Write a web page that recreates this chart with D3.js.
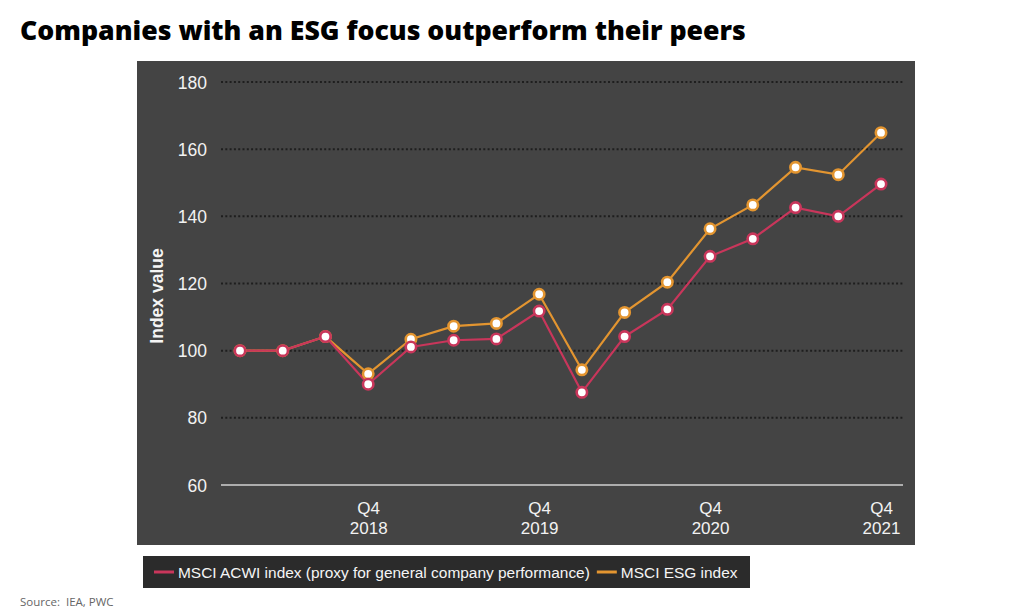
<!DOCTYPE html>
<html>
<head>
<meta charset="utf-8">
<script src="https://cdn.jsdelivr.net/npm/d3@7"></script>
<style>
  html, body { margin: 0; padding: 0; background: #fff; }
  svg { display: block; }
</style>
</head>
<body>
<svg id="chart" width="1024" height="614"></svg>
<script>
const quarters = ["Q1 2018","Q2 2018","Q3 2018","Q4 2018","Q1 2019","Q2 2019","Q3 2019","Q4 2019",
                  "Q1 2020","Q2 2020","Q3 2020","Q4 2020","Q1 2021","Q2 2021","Q3 2021","Q4 2021"];
const acwiValues = [100, 100, 104.2, 90, 101.1, 103.1, 103.5, 111.8, 87.6, 104.2, 112.3, 128.1, 133.3, 142.6, 140, 149.6];
const esgValues  = [100, 100, 104.2, 93.1, 103.4, 107.3, 108.1, 116.8, 94.3, 111.4, 120.4, 136.3, 143.4, 154.6, 152.4, 164.9];
const yTicks = [60, 80, 100, 120, 140, 160, 180];
const xTickLabels = {"Q4 2018": ["Q4","2018"], "Q4 2019": ["Q4","2019"], "Q4 2020": ["Q4","2020"], "Q4 2021": ["Q4","2021"]};
const seriesNames = ["MSCI ACWI index (proxy for general company performance)", "MSCI ESG index"];
const seriesColors = ["#c9365b", "#e39530"];

const svg = d3.select("#chart");
const font = "'Liberation Sans', Arial, Helvetica, sans-serif";

// Title
const title = svg.append("text")
  .attr("x", 20).attr("y", 40)
  .attr("font-family", "'Open Sans', sans-serif")
  .attr("font-weight", 800)
  .attr("font-size", 25)
  .attr("fill", "#000")
  .text("Companies with an ESG focus outperform their peers");
{
  const w = title.node().getComputedTextLength();
  title.attr("font-size", 25 * 726 / w);
}

// Panel
svg.append("rect").attr("x", 137).attr("y", 61).attr("width", 778).attr("height", 484).attr("fill", "#444444");

const x = d3.scalePoint().domain(quarters).range([240, 881]);
const y = d3.scaleLinear().domain([60, 180]).range([485, 82]);

// Gridlines
const grid = svg.append("g");
grid.selectAll("line").data(yTicks.filter(d => d > 60)).join("line")
  .attr("x1", 221).attr("x2", 903)
  .attr("y1", d => y(d)).attr("y2", d => y(d))
  .attr("stroke", "#1e1e1e").attr("stroke-width", 2)
  .attr("stroke-dasharray", "2,2.3");

// Baseline axis (x)
svg.append("line").attr("x1", 221).attr("x2", 903).attr("y1", y(60)).attr("y2", y(60))
  .attr("stroke", "#d0d0d0").attr("stroke-width", 1.5);

// Y axis labels
const yAxis = d3.axisLeft(y).tickValues(yTicks).tickSize(0).tickPadding(0);
const yg = svg.append("g").attr("transform", "translate(207,0)").call(yAxis);
yg.select(".domain").remove();
yg.selectAll("text").attr("font-family", font).attr("font-size", 17.5).attr("fill", "#f2f2f2").attr("dy", "0.35em");

// X axis labels
const xAxis = d3.axisBottom(x).tickValues(Object.keys(xTickLabels)).tickSize(0).tickFormat(() => "");
const xg = svg.append("g").attr("transform", `translate(0,${y(60)})`).call(xAxis);
xg.select(".domain").remove();
xg.selectAll(".tick text").each(function(d) {
  const t = d3.select(this).text(null).attr("y", 0).attr("dy", null)
    .attr("font-family", font).attr("font-size", 17).attr("fill", "#f2f2f2");
  xTickLabels[d].forEach((s, i) => {
    t.append("tspan").attr("x", 0).attr("y", 29 + i * 20).text(s);
  });
});

// Axis title
svg.append("text")
  .attr("transform", "translate(163,296) rotate(-90)")
  .attr("text-anchor", "middle")
  .attr("font-family", font).attr("font-weight", "bold").attr("font-size", 17.5)
  .attr("fill", "#f5f5f5")
  .text("Index value");

// Lines
const line = d3.line().x((d, i) => x(quarters[i])).y(d => y(d));
const series = [esgValues, acwiValues];
const colors = [seriesColors[1], seriesColors[0]];
series.forEach((vals, si) => {
  svg.append("path").datum(vals).attr("d", line)
    .attr("fill", "none").attr("stroke", colors[si]).attr("stroke-width", 2.2);
});
series.forEach((vals, si) => {
  svg.append("g").selectAll("circle").data(vals).join("circle")
    .attr("cx", (d, i) => x(quarters[i])).attr("cy", d => y(d)).attr("r", 5.2)
    .attr("fill", "#ffffff").attr("stroke", colors[si]).attr("stroke-width", 2.6);
});

// Legend
svg.append("rect").attr("x", 143).attr("y", 556).attr("width", 607).attr("height", 32).attr("fill", "#2b2b2b");
const leg = svg.append("g");
const legText = svg.append("text").attr("font-family", font).attr("font-size", 16).text(seriesNames[0]);
const legSize = 16 * 412 / legText.node().getComputedTextLength();
legText.remove();
let lx = 154;
seriesNames.forEach((name, i) => {
  leg.append("line").attr("x1", lx).attr("x2", lx + 20).attr("y1", 572).attr("y2", 572)
    .attr("stroke", seriesColors[i]).attr("stroke-width", 3);
  const t = leg.append("text").attr("x", lx + 24).attr("y", 578)
    .attr("font-family", font).attr("font-size", legSize).attr("fill", "#f5f5f5").text(name);
  lx += 24 + t.node().getComputedTextLength() + 7;
});

// Source
svg.append("text").attr("x", 20).attr("y", 606)
  .attr("font-family", "'Open Sans', sans-serif").attr("font-size", 11.5).attr("fill", "#666")
  .style("white-space", "pre")
  .text("Source:  IEA, PWC");
</script>
</body>
</html>
